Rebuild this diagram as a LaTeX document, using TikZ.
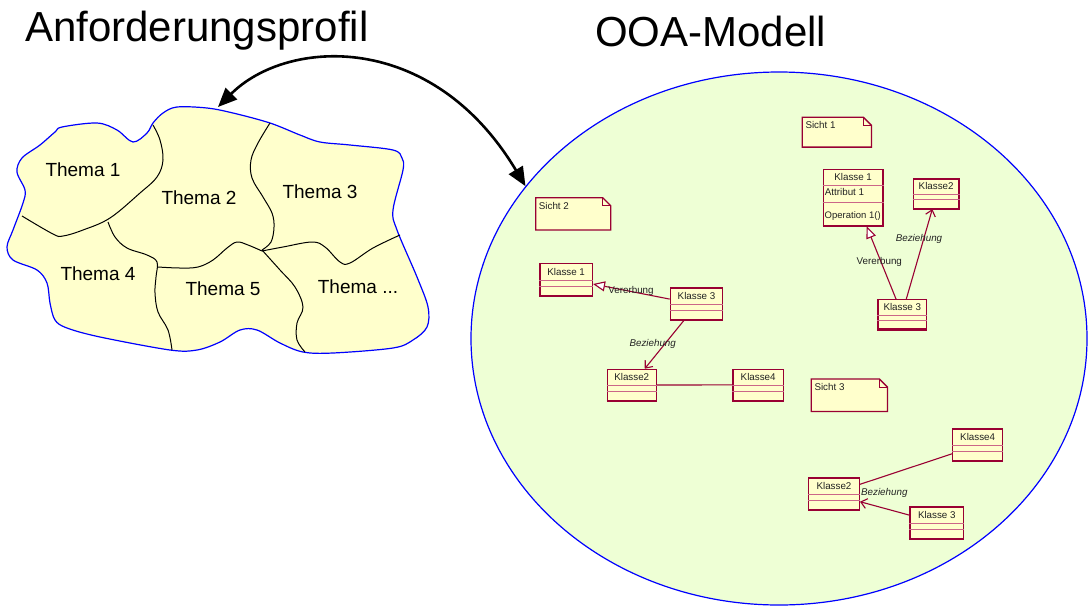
\documentclass[tikz,border=0pt]{standalone}
\usepackage{fontspec}
\setmainfont{Liberation Sans}
\usetikzlibrary{arrows.meta,calc,shapes.geometric}

\definecolor{blobfill}{HTML}{FFFFCC}
\definecolor{ovalfill}{HTML}{EEFFD5}
\definecolor{umlred}{HTML}{990033}
\definecolor{umldiv}{HTML}{CC6688}
\definecolor{umlfill}{HTML}{FFFFCC}
\definecolor{umltext}{HTML}{222222}

% UML class box: name, x, y (top left), width, height, class name
\newcommand\umlclass[6]{%
  \node[classbox, minimum width=#4pt, minimum height=#5pt, anchor=north west] (#1) at (#2,#3) {};
  \draw[umlred, line width=2pt] (#1.south west) -- (#1.south east);
  \draw[divider] ($(#1.north west)+(0,#5*0.55)$) -- ($(#1.north east)+(0,#5*0.55)$);
  \draw[divider] ($(#1.north west)+(0,#5*0.73)$) -- ($(#1.north east)+(0,#5*0.73)$);
  \node[uml] (#1-name) at ($(#1.north)+(0,#5*0.275)$) {#6};
}

% UML note with folded corner: name, x, y (top left), width, height, text
\newcommand\umlnote[6]{%
  \node[anchor=north west, minimum width=#4pt, minimum height=#5pt, inner sep=0] (#1) at (#2,#3) {};
  \draw[umlred, line width=1.3pt, fill=umlfill]
    (#1.north west) -- ($(#1.north east)+(-8,0)$) -- ($(#1.north east)+(0,8)$)
    -- (#1.south east) -- (#1.south west) -- cycle;
  \draw[umlred, line width=0.8pt]
    ($(#1.north east)+(-8,0)$) -- ($(#1.north east)+(-8,8)$) -- ($(#1.north east)+(0,8)$);
  \node[uml, anchor=west] (#1-text) at ($(#1.north west)+(3,7.8)$) {#6};
}

\begin{document}
\begin{tikzpicture}[x=1pt, y=-1pt,
  title/.style={font=\fontsize{42}{48}\selectfont, anchor=base west, inner sep=0},
  thema/.style={font=\fontsize{19}{22}\selectfont, inner sep=0},
  uml/.style={font=\fontsize{9.8}{11}\selectfont, text=umltext, inner sep=0},
  umlit/.style={uml, font=\fontsize{9.8}{11}\selectfont\itshape},
  classbox/.style={rectangle, draw=umlred, fill=umlfill, line width=1.3pt, inner sep=0},
  divider/.style={draw=umldiv, line width=0.9pt},
  border/.style={draw=blue, line width=1.2pt},
  seam/.style={draw=black, line width=1pt},
  rel/.style={draw=umlred, line width=1.1pt},
  inherit/.style={rel, -{Triangle[open, length=12pt, width=10pt, fill=white]}},
  assoc/.style={rel, -{Straight Barb[length=6pt, width=10pt]}},
  linkarrow/.style={line width=2.6pt,
    {Triangle[length=19pt, width=16pt]}-{Triangle[length=19pt, width=16pt]}}
]
\useasboundingbox (0,0) rectangle (1089,606);

% ---- requirements profile: the patchwork of topics ----
\draw[border, fill=blobfill] plot[smooth cycle, tension=0.55] coordinates {
  (147,133) (153,123) (163,113) (177,107) (207,108) (233,113) (270,123)
  (300,135) (320,142) (350,145) (393,150) (402,158) (403,170) (393,210)
  (397,230) (417,277) (428,307) (427,327) (413,340) (393,348) (333,353)
  (303,352) (280,343) (257,330) (240,330) (220,342) (197,350) (170,350)
  (100,337) (67,328) (55,320) (50,303) (47,283) (37,270) (13,260)
  (7,247) (13,230) (23,203) (25,190) (17,172) (22,158) (40,145)
  (55,132) (62,127) (97,123) (117,130) (133,142)};

\draw[seam] plot[smooth, tension=0.6] coordinates {
  (153,125) (160,140) (163,160) (157,177) (140,193) (110,218) (83,230)
  (63,236) (53,234) (22,216)};
\draw[seam] plot[smooth, tension=0.6] coordinates {
  (270,123) (258,143) (251,160) (252,178) (263,197) (272,213) (274,227)
  (271,242) (262,250)};
\draw[seam] plot[smooth, tension=0.6] coordinates {
  (108,222) (115,237) (127,248) (147,255) (157,262) (156,277) (155,293)
  (158,312) (168,330) (172,350)};
\draw[seam] plot[smooth, tension=0.6] coordinates {
  (158,267) (180,268) (198,267) (213,260) (227,248) (237,242) (248,245)
  (262,251)};
\draw[seam] plot[smooth, tension=0.6] coordinates {
  (262,251) (283,247) (312,242) (325,247) (340,262) (350,263) (373,248)
  (400,235)};
\draw[seam] plot[smooth, tension=0.6] coordinates {
  (262,250) (280,270) (295,287) (303,307) (297,323) (297,340) (305,352)};

\node[thema] (t1) at (83,170) {Thema 1};
\node[thema] (t2) at (199,198) {Thema 2};
\node[thema] (t3) at (320,192) {Thema 3};
\node[thema] (t4) at (98,274) {Thema 4};
\node[thema] (t5) at (223,289) {Thema 5};
\node[thema] (t6) at (358,287) {Thema ...};

% ---- OOA model ----
\node[ellipse, border, fill=ovalfill, minimum width=616pt, minimum height=533pt,
      inner sep=0] (ooa) at (779,338.5) {};

% view 1
\umlnote{sicht1}{802.3}{117.3}{68.7}{29.4}{Sicht 1}
\node[classbox, minimum width=59.6pt, minimum height=56pt, anchor=north west]
  (s1k1) at (822.7,169) {};
\draw[umlred, line width=2pt] (s1k1.south west) -- (s1k1.south east);
\draw[divider] ($(s1k1.north west)+(0,16.3)$) -- ($(s1k1.north east)+(0,16.3)$);
\draw[divider] ($(s1k1.north west)+(0,33.7)$) -- ($(s1k1.north east)+(0,33.7)$);
\node[uml] (s1k1-name) at ($(s1k1.north)+(0,8.2)$) {Klasse 1};
\node[uml, anchor=west] (s1k1-attr) at ($(s1k1.north west)+(2,23.3)$) {Attribut 1};
\node[uml, anchor=west, font=\fontsize{9.5}{11}\selectfont] (s1k1-op)
  at ($(s1k1.north west)+(1.8,47)$) {Operation 1()};
\umlclass{s1k2}{912.7}{178.3}{45.6}{29.4}{Klasse2}
\umlclass{s1k3}{877.3}{299}{48.7}{29.3}{Klasse 3}
\draw[inherit] ($(s1k3.north)+(-6.3,0)$) -- ($(s1k1.south)+(13.5,0)$);
\draw[assoc] ($(s1k3.north)+(4,0)$) -- ($(s1k2.south)+(-3.8,0)$);
\node[uml] (s1inh) at (879.3,262.3) {Vererbung};
\node[umlit] (s1rel) at (919,239.3) {Beziehung};

% view 2
\umlnote{sicht2}{535.7}{197.7}{74.6}{31.8}{Sicht 2}
\umlclass{s2k1}{539.3}{262.7}{52.4}{32.3}{Klasse 1}
\umlclass{s2k3}{669.7}{287.3}{52.3}{31.7}{Klasse 3}
\umlclass{s2k2}{606.5}{368.7}{49.2}{31.3}{Klasse2}
\umlclass{s2k4}{732.3}{368.5}{50.4}{31.5}{Klasse4}
\draw[inherit] ($(s2k3.west)+(0,-4.7)$) -- ($(s2k1.east)+(0,4.5)$);
\draw[assoc] ($(s2k3.south)+(-12.5,0)$) -- ($(s2k2.north)+(13,0)$);
\draw[rel] (s2k2.east) -- (s2k4.west);
\node[uml] (s2inh) at (631,291) {Vererbung};
\node[umlit] (s2rel) at (652.7,344.3) {Beziehung};

% view 3
\umlnote{sicht3}{811.3}{379}{75.7}{32}{Sicht 3}
\umlclass{s3k4}{952}{428.3}{50}{31.7}{Klasse4}
\umlclass{s3k2}{808}{477.3}{50.7}{31.7}{Klasse2}
\umlclass{s3k3}{909.3}{506.3}{53.7}{31.7}{Klasse 3}
\draw[rel] ($(s3k2.north east)+(0,7)$) -- ($(s3k4.west)+(0,9)$);
\draw[assoc] ($(s3k3.west)+(0,-7.7)$) -- ($(s3k2.east)+(0,7.9)$);
\node[umlit] (s3rel) at (884.3,492.7) {Beziehung};

% ---- link between profile and model ----
\coordinate (blobtip) at (218,107);
\draw[linkarrow] (blobtip) .. controls (287,38) and (432,30) .. (ooa.149);

% ---- headings ----
\node[title] (h1) at (25,41.7) {Anforderungsprofil};
\node[title] (h2) at (595,46.7) {OOA-Modell};
\end{tikzpicture}
\end{document}
